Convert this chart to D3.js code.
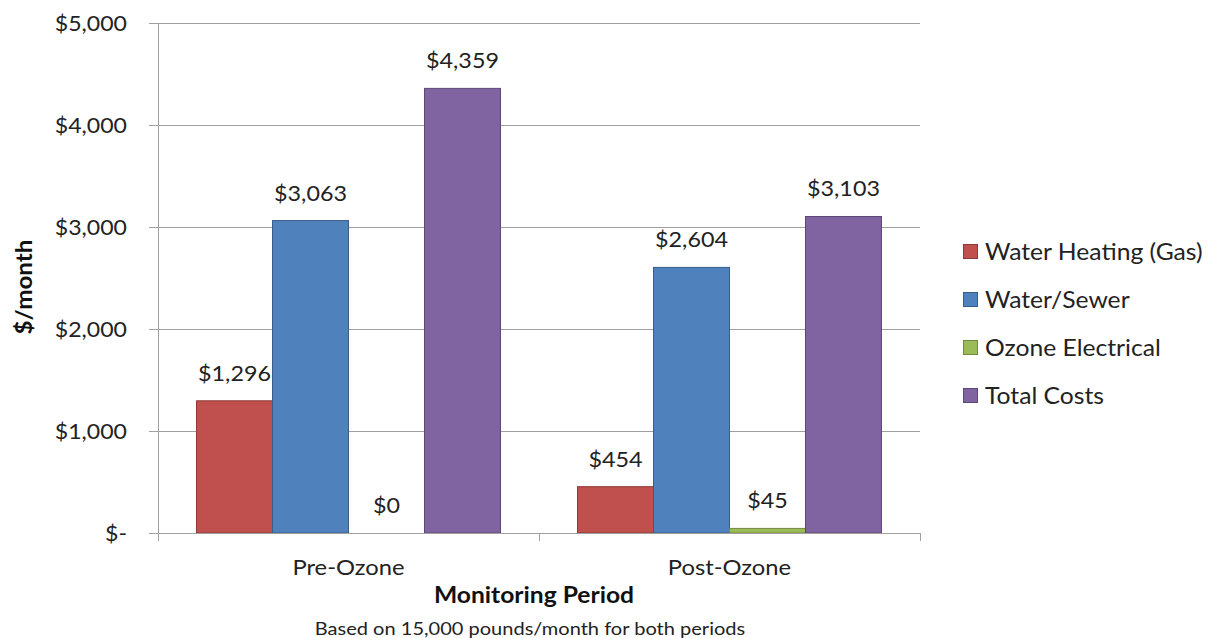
<!DOCTYPE html>
<html><head><meta charset="utf-8">
<script src="https://cdn.jsdelivr.net/npm/d3@7"></script>
<style>body{margin:0;background:#fff;}svg{display:block;font-family:Lato,"Open Sans",sans-serif;}</style>
</head><body><svg id="c" width="1216" height="638"></svg>
<script>
const categories = ["Pre-Ozone", "Post-Ozone"];
const seriesNames = ["Water Heating (Gas)", "Water/Sewer", "Ozone Electrical", "Total Costs"];
const waterHeating = [1296, 454];
const waterSewer = [3063, 2604];
const ozoneElectrical = [0, 45];
const totalCosts = [4359, 3103];
const yTicks = [0, 1000, 2000, 3000, 4000, 5000];
const yTickLabels = ["$-", "$1,000", "$2,000", "$3,000", "$4,000", "$5,000"];
const colors = ["#C0504D", "#4F81BD", "#9BBB59", "#8064A2"];
const strokes = ["#8C3836", "#385D8A", "#71893F", "#5C4776"];

const seriesValues = [waterHeating, waterSewer, ozoneElectrical, totalCosts];
const svg = d3.select("#c");
const L = 158, R = 920, T = 23, B = 533;
const gridColor = "#a0a0a0";
const x0 = d3.scaleBand().domain(categories).range([L, R]).paddingInner(0).paddingOuter(0);
const x1 = d3.scaleBand().domain(d3.range(4)).range([0, x0.bandwidth()]).paddingInner(0).paddingOuter(0.507);
const y = d3.scaleLinear().domain([0, 5000]).range([B, T]);

function stretch(sel, f) {
  sel.each(function () {
    const l = this.getComputedTextLength();
    this.setAttribute("textLength", l * f);
    this.setAttribute("lengthAdjust", "spacingAndGlyphs");
  });
}

// gridlines
svg.append("g").selectAll("line").data(yTicks.filter(d => d > 0)).join("line")
  .attr("x1", L).attr("x2", R).attr("y1", d => y(d)).attr("y2", d => y(d))
  .attr("stroke", gridColor).attr("stroke-width", 1).attr("shape-rendering", "crispEdges");

// y axis
const yAxis = d3.axisLeft(y).tickValues(yTicks).tickFormat((d, i) => yTickLabels[i]).tickSize(9).tickPadding(22);
const ya = svg.append("g").attr("transform", `translate(${L},0)`).call(yAxis);
ya.select(".domain").attr("stroke", gridColor).attr("d", `M0.5,${T}V${B + 8}`);
ya.selectAll(".tick line").attr("stroke", gridColor).attr("shape-rendering", "crispEdges");
const yt = ya.selectAll(".tick text").attr("font-size", 22).attr("fill", "#222").attr("font-family", "Lato");
stretch(yt, 1.05);

// bars
const groups = svg.append("g").selectAll("g").data(categories).join("g")
  .attr("transform", d => `translate(${x0(d)},0)`);
groups.each(function (cat, ci) {
  const g = d3.select(this);
  seriesValues.forEach((vals, si) => {
    const v = vals[ci];
    const h = B - y(v);
    if (h > 0) {
      g.append("rect").attr("x", x1(si)).attr("y", y(v)).attr("width", x1.bandwidth()).attr("height", h)
        .attr("fill", colors[si]).attr("stroke", strokes[si]).attr("stroke-width", 1);
    }
    const t = g.append("text").attr("x", x1(si) + x1.bandwidth() / 2).attr("y", y(v) - 20)
      .attr("text-anchor", "middle").attr("font-size", 22).attr("fill", "#222")
      .text("$" + d3.format(",")(v));
    stretch(t, 1.06);
  });
});

// x axis
svg.append("line").attr("x1", L).attr("x2", R).attr("y1", B).attr("y2", B)
  .attr("stroke", gridColor).attr("shape-rendering", "crispEdges");
[L, x0("Post-Ozone"), R].forEach(px => {
  svg.append("line").attr("x1", px).attr("x2", px).attr("y1", B).attr("y2", B + 8)
    .attr("stroke", gridColor).attr("shape-rendering", "crispEdges");
});
const cl = svg.append("g").selectAll("text").data(categories).join("text")
  .attr("x", d => x0(d) + x0.bandwidth() / 2).attr("y", 575)
  .attr("text-anchor", "middle").attr("font-size", 22).attr("fill", "#222").text(d => d);
stretch(cl, 1.08);

// axis titles
stretch(svg.append("text").attr("x", 534).attr("y", 603).attr("text-anchor", "middle")
  .attr("font-size", 22).attr("font-weight", "bold").attr("fill", "#111").text("Monitoring Period"), 1.12);
stretch(svg.append("text").attr("transform", "translate(32,287) rotate(-90)").attr("text-anchor", "middle")
  .attr("font-size", 22).attr("font-weight", "bold").attr("fill", "#111").text("$/month"), 1.1);
stretch(svg.append("text").attr("x", 530).attr("y", 635).attr("text-anchor", "middle")
  .attr("font-size", 16.7).attr("fill", "#222").text("Based on 15,000 pounds/month for both periods"), 1.2);

// legend
const lg = svg.append("g").selectAll("g").data(seriesNames).join("g")
  .attr("transform", (d, i) => `translate(963,${252 + i * 48})`);
lg.append("rect").attr("x", 0.5).attr("y", -7.5).attr("width", 14).attr("height", 14)
  .attr("fill", (d, i) => colors[i]).attr("stroke", (d, i) => strokes[i]);
stretch(lg.append("text").attr("x", 22).attr("y", 8).attr("font-size", 23.5).attr("fill", "#222").text(d => d), 1.05);
</script></body></html>
